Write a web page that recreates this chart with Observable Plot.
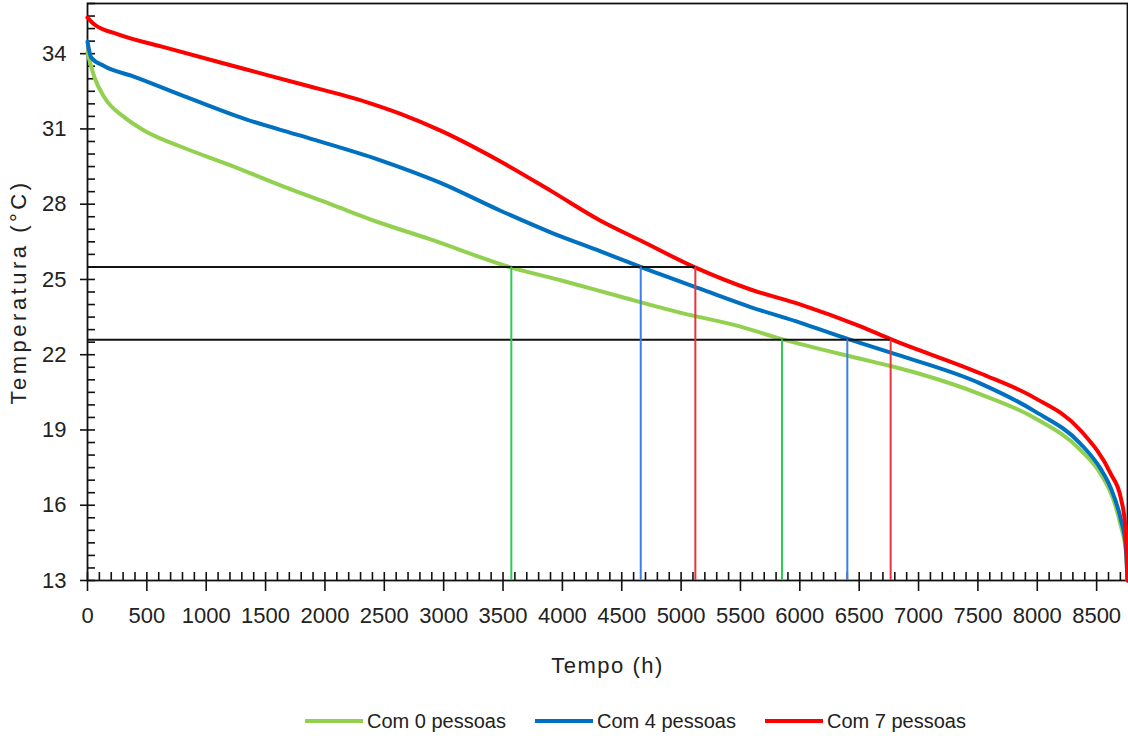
<!DOCTYPE html>
<html>
<head>
<meta charset="utf-8">
<script src="https://cdn.jsdelivr.net/npm/d3@7"></script>
<script src="https://cdn.jsdelivr.net/npm/@observablehq/plot@0.6"></script>
<style>
  html, body { margin: 0; padding: 0; background: #fff; }
  body { width: 1128px; height: 742px; overflow: hidden; font-family: "Liberation Sans", Arial, sans-serif; }
  #legend { position: relative; height: 42px; font-size: 20px; color: #222; }
  .item { position: absolute; top: 0; height: 42px; display: flex; align-items: center; }
  .swatch { width: 58px; height: 4px; margin-right: 4px; }
</style>
</head>
<body>
<div id="chart"></div>
<div id="legend"></div>
<script>
// ---- Data ----
const seriesNames = ["Com 0 pessoas", "Com 4 pessoas", "Com 7 pessoas"];
const seriesColors = ["#92D050", "#0070C0", "#FF0000"];
const refColors = ["#2ecc55", "#3d7fe8", "#e8323c"];

const hours0 = [0, 59, 143, 312, 480, 783, 1205, 1626, 2047, 2468, 2890, 3572, 4000, 4500, 5000, 5500, 5850, 6500, 6765, 7000, 7523, 7970, 8365, 8534, 8643, 8703, 8745, 8760];
const temps0 = [34.05, 33.05, 32.25, 31.46, 30.93, 30.3, 29.55, 28.75, 28.0, 27.25, 26.6, 25.47, 24.95, 24.3, 23.67, 23.12, 22.62, 21.85, 21.55, 21.25, 20.42, 19.5, 18.2, 17.25, 16.2, 15.2, 14.2, 13.0];

const hours4 = [0, 31, 143, 396, 817, 1323, 1795, 2468, 2974, 3479, 3900, 4322, 4659, 5164, 5585, 6007, 6403, 6765, 7523, 7970, 8365, 8534, 8618, 8703, 8745, 8760];
const temps4 = [34.48, 33.85, 33.5, 33.08, 32.3, 31.4, 30.73, 29.75, 28.85, 27.74, 26.88, 26.12, 25.5, 24.62, 23.9, 23.27, 22.63, 22.08, 20.85, 19.77, 18.45, 17.45, 16.7, 15.45, 14.4, 13.0];

const hours7 = [0, 59, 252, 650, 1323, 1795, 2356, 2637, 2974, 3479, 3900, 4322, 4659, 5122, 5585, 6007, 6500, 6765, 7523, 7970, 8365, 8618, 8703, 8745, 8760];
const temps7 = [35.44, 35.16, 34.78, 34.25, 33.39, 32.79, 32.06, 31.6, 30.93, 29.7, 28.54, 27.34, 26.55, 25.47, 24.6, 24.0, 23.15, 22.62, 21.25, 20.3, 18.98, 17.26, 16.3, 15.0, 13.0];

// comfort limits and crossing hours
const limitTemps = [25.5, 22.6];
const limitEnds = [5120, 6765];
const crossHours = [3570, 4660, 5120, 5850, 6400, 6765];
const crossTemps = [25.5, 25.5, 25.5, 22.6, 22.6, 22.6];
const crossSeries = [0, 1, 2, 0, 1, 2];

// axes
const xTicks = [0, 500, 1000, 1500, 2000, 2500, 3000, 3500, 4000, 4500, 5000, 5500, 6000, 6500, 7000, 7500, 8000, 8500];
const yTicks = [13, 16, 19, 22, 25, 28, 31, 34];
const xMinorStep = 100;
const yMinorStep = 0.5;
const xDomain = [0, 8760];
const yDomain = [13, 36];
const xTitle = "Tempo (h)";
const yTitle = "Temperatura (°C)";

// ---- Build tables ----
const hoursAll = [hours0, hours4, hours7];
const tempsAll = [temps0, temps4, temps7];
const curves = [];
hoursAll.forEach((hs, s) => hs.forEach((h, i) => curves.push({s, h, t: tempsAll[s][i]})));
const crosses = crossHours.map((h, i) => ({h, t: crossTemps[i], s: crossSeries[i]}));
const limits = limitTemps.map((t, i) => ({t, end: limitEnds[i]}));
const xMinor = d3.range(xDomain[0], xDomain[1] + 1, xMinorStep);
const yMinor = d3.range(yDomain[0], yDomain[1] + 0.001, yMinorStep);

const font = "'Liberation Sans', Arial, sans-serif";

const chart = Plot.plot({
  width: 1128,
  height: 700,
  marginLeft: 87,
  marginRight: 1,
  marginTop: 3,
  marginBottom: 120,
  style: {fontFamily: font, fontSize: "22px", color: "#222", background: "#fff", overflow: "visible"},
  x: {domain: xDomain, label: null},
  y: {domain: yDomain, label: null},
  marks: [
    // minor ticks (inward)
    Plot.axisY({ticks: yMinor, tickSize: 8, dx: 8, tickFormat: () => "", label: null, stroke: "#111", strokeWidth: 1.6}),
    Plot.axisX({ticks: xMinor, tickSize: 8, dy: -8, tickFormat: () => "", label: null, stroke: "#111", strokeWidth: 1.6}),
    // major ticks (outward) with labels
    Plot.axisY({ticks: yTicks, tickSize: 7, tickPadding: 14, tickFormat: d => String(d), label: null, fontSize: 22, stroke: "#111", strokeWidth: 1.6}),
    Plot.axisX({ticks: xTicks, tickSize: 11, tickPadding: 16, tickFormat: d => String(d), label: null, fontSize: 22, stroke: "#111", strokeWidth: 1.6}),
    Plot.frame({stroke: "#111", strokeWidth: 1.8}),
    // curves
    Plot.line(curves, {x: "h", y: "t", z: "s", stroke: d => seriesColors[d.s], strokeWidth: 4, curve: "monotone-x"}),
    // reference lines
    Plot.ruleY(limits, {y: "t", x1: xDomain[0], x2: "end", stroke: "#111", strokeWidth: 2}),
    Plot.ruleX(crosses, {x: "h", y1: yDomain[0], y2: "t", stroke: d => refColors[d.s], strokeWidth: 2}),
    // axis titles
    Plot.text([xTitle], {frameAnchor: "bottom", textAnchor: "middle", dy: 92, fontSize: 22, fill: "#222"}),
    Plot.text([yTitle], {frameAnchor: "left", textAnchor: "middle", dx: -69, rotate: -90, fontSize: 22, fill: "#222"})
  ]
});
document.getElementById("chart").appendChild(chart);

// letter spacing for titles (as in the reference)
d3.select(chart).selectAll("text").filter(function() { return this.textContent === yTitle; }).attr("letter-spacing", "3.5px");
d3.select(chart).selectAll("text").filter(function() { return this.textContent === xTitle; }).attr("letter-spacing", "1.5px");

// ---- Legend ----
const legendLefts = [305, 535, 765];
const legend = d3.select("#legend");
seriesNames.forEach((name, i) => {
  const item = legend.append("div").attr("class", "item").style("left", legendLefts[i] + "px");
  item.append("div").attr("class", "swatch").style("background", seriesColors[i]);
  item.append("span").text(name);
});
</script>
</body>
</html>
